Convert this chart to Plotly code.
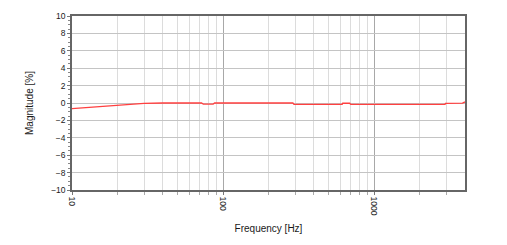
import plotly.graph_objects as go

freq = [10, 12, 15, 18, 22, 26, 30, 40, 60, 72, 74, 86, 88, 100, 150, 200, 290, 295, 400, 500, 615, 620, 690, 700, 1000, 1500, 2000, 2500, 2950, 2970, 3500, 3850, 4000]
magnitude = [-0.65, -0.55, -0.42, -0.3, -0.2, -0.12, -0.05, 0, 0, 0, -0.12, -0.12, 0, 0, 0, 0, 0, -0.15, -0.15, -0.15, -0.15, -0.03, -0.03, -0.15, -0.15, -0.15, -0.15, -0.15, -0.15, -0.05, -0.05, -0.02, 0.12]

x_major = [10, 100, 1000]
x_major_labels = ["10", "100", "1000"]
x_minor = [20, 30, 40, 50, 60, 70, 80, 90, 200, 300, 400, 500, 600, 700, 800, 900, 2000, 3000]
y_ticks = [10, 8, 6, 4, 2, 0, -2, -4, -6, -8, -10]

fig = go.Figure()
fig.add_trace(go.Scatter(x=freq, y=magnitude, mode="lines",
                         line=dict(color="#ff4040", width=1.3), showlegend=False))

font = dict(family="Liberation Sans, Arial, sans-serif", size=8, color="#1a1a1a")
fig.update_layout(
    width=507, height=245,
    margin=dict(l=72, r=42, t=16, b=55),
    paper_bgcolor="white", plot_bgcolor="white",
    font=font,
    xaxis=dict(
        type="log", range=[1, 3.602],
        tickvals=x_major, ticktext=x_major_labels, tickangle=90,
        showgrid=True, gridcolor="#a8a8a8", gridwidth=1,
        ticks="outside", ticklen=3, tickcolor="#777",
        showline=True, linecolor="#666", linewidth=1.5, mirror=True,
        zeroline=False,
        minor=dict(tickvals=x_minor, showgrid=True, gridcolor="#dcdcdc", gridwidth=1,
                   ticks="outside", ticklen=3, tickcolor="#aaa"),
        title=dict(text="Frequency [Hz]", font=dict(size=10), standoff=10),
        tickfont=dict(size=8.5),
    ),
    yaxis=dict(
        range=[-10, 10], tickvals=y_ticks,
        showgrid=True, gridcolor="#c4c4c4", gridwidth=1,
        ticks="outside", ticklen=3, tickcolor="#777",
        showline=True, linecolor="#666", linewidth=1.5, mirror=True,
        zeroline=False,
        minor=dict(dtick=0.5, ticks="outside", ticklen=2, tickcolor="#888", showgrid=False),
        title=dict(text="Magnitude [%]", font=dict(size=10), standoff=16),
        tickfont=dict(size=8.5),
    ),
)
fig.write_html("out.html")
